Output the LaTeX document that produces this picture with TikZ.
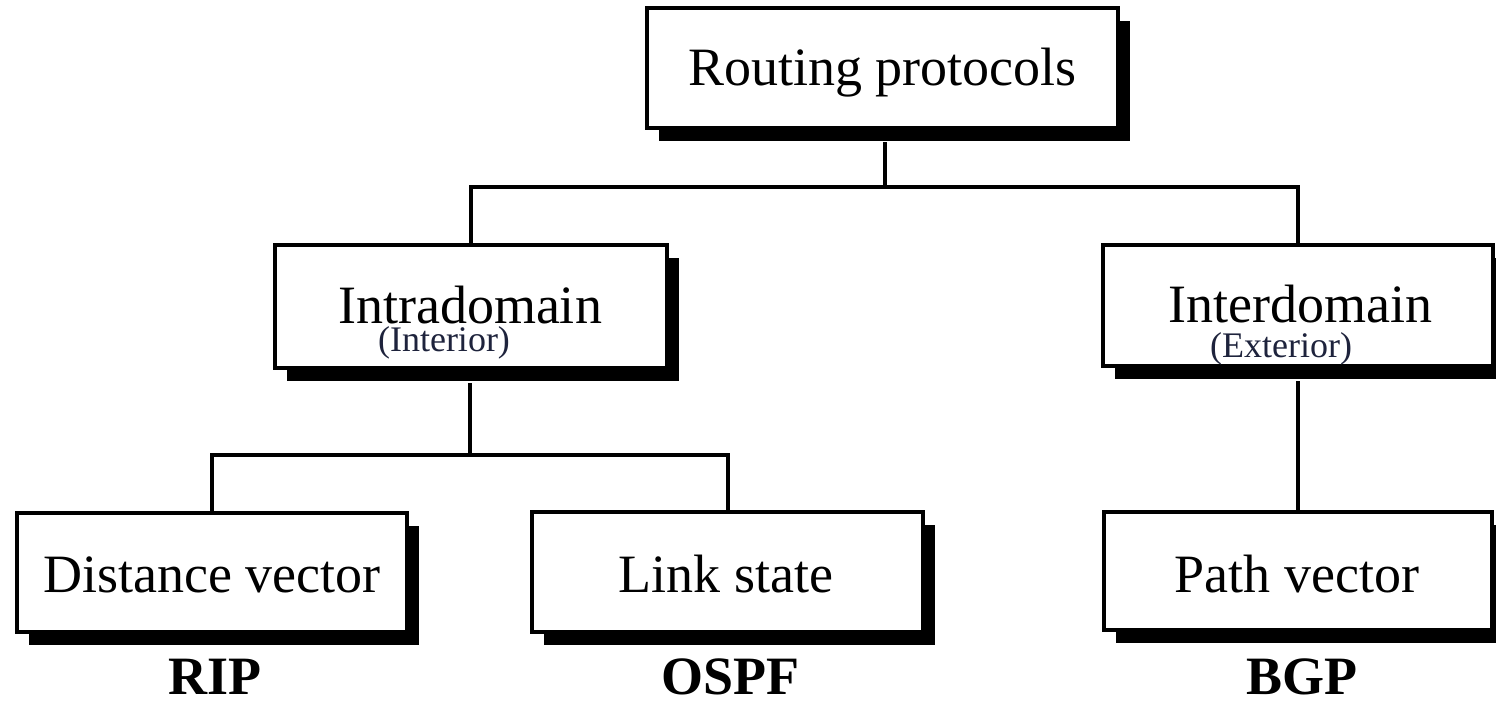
\documentclass[tikz,border=0pt]{standalone}
\usepackage{fontspec}
\setmainfont{Liberation Serif}
\usetikzlibrary{shadows}
\tikzset{
  box/.style={draw=black, line width=4.5pt, fill=white, inner sep=0pt,
    drop shadow={shadow xshift=12pt, shadow yshift=-13pt, fill=black, opacity=1}},
  conn/.style={draw=black, line width=4pt},
  big/.style={anchor=base, inner sep=0pt, font=\fontsize{54}{60}\selectfont},
  small/.style={anchor=base, inner sep=0pt, font=\fontsize{36}{40}\selectfont, text={rgb,255:red,30;green,35;blue,60}},
  proto/.style={anchor=base, inner sep=0pt, text depth=0pt, font=\fontsize{54}{60}\selectfont\bfseries},
}
\begin{document}
\begin{tikzpicture}[x=1pt,y=-1pt]
\useasboundingbox (0,0) rectangle (1496,701);
\clip (0,0) rectangle (1496,701);
% junction coordinates
\coordinate (j1) at (885,187);
\coordinate (j2) at (470,455);
% boxes
\node[box, minimum width=471pt, minimum height=120pt] (rp) at (882.5,68) {};
\node[box, minimum width=392pt, minimum height=123pt] (intra) at (471,306.5) {};
\node[box, minimum width=390pt, minimum height=121pt] (inter) at (1298,305.5) {};
\node[box, minimum width=390pt, minimum height=119pt] (dv) at (212,572.5) {};
\node[box, minimum width=391pt, minimum height=120pt] (ls) at (727.5,572) {};
\node[box, minimum width=388pt, minimum height=118pt] (pv) at (1298,571) {};
% connectors
\draw[conn] (j1 |- rp.south) ++(0,12) -- (j1);
\draw[conn] (intra.north) |- (j1) -| (inter.north);
\draw[conn] (j2 |- intra.south) ++(0,13) -- (j2);
\draw[conn] (dv.north) |- (j2) -| (ls.north);
\draw[conn] (pv.north |- inter.south) ++(0,13) -- (pv.north);
% texts
\node[big] (trp) at (882.5,85) {Routing protocols};
\node[big] (tintra) at (470,323) {Intradomain};
\node[small] (tint) at (444,351) {(Interior)};
\node[big] (tinter) at (1300,322) {Interdomain};
\node[small] (text) at (1281,357) {(Exterior)};
\node[big] (tdv) at (212,592) {Distance vector};
\node[big] (tls) at (726,592) {Link state};
\node[big] (tpv) at (1297,592) {Path vector};
\node[proto] (rip) at (215,694) {RIP};
\node[proto] (ospf) at (730,694) {OSPF};
\node[proto] (bgp) at (1302,694) {BGP};
\end{tikzpicture}
\end{document}
